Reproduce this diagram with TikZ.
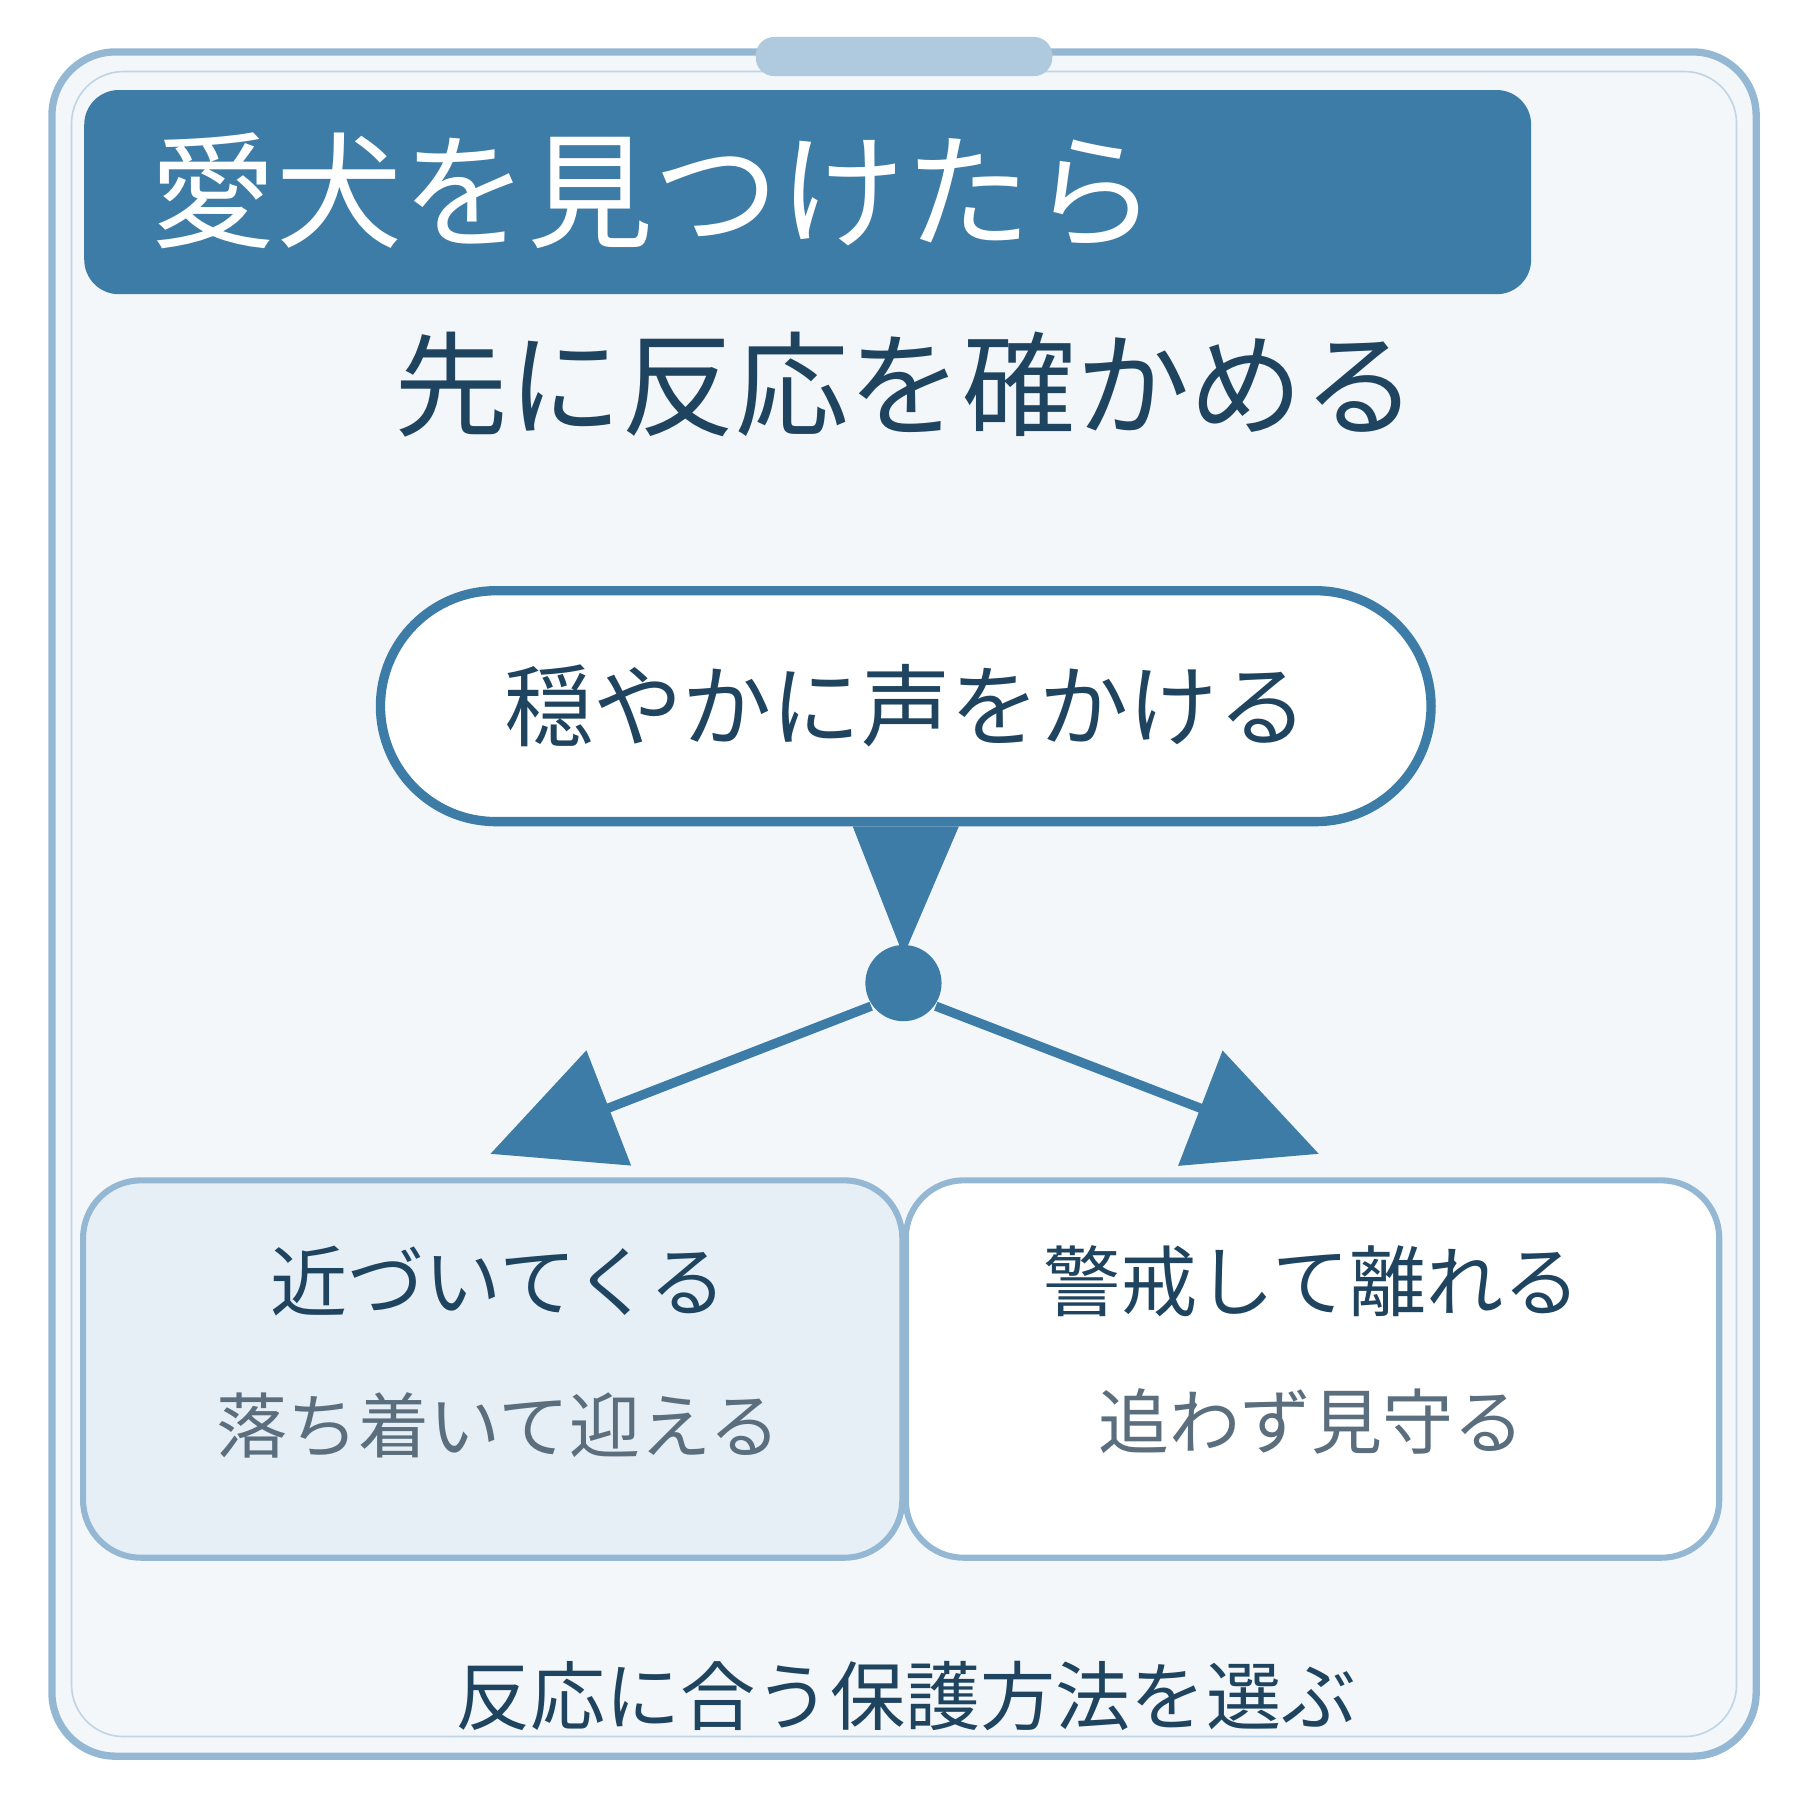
\documentclass[tikz,border=0pt]{standalone}
\usepackage{fontspec}
\setmainfont{Noto Sans CJK JP}
\usetikzlibrary{arrows.meta}
\definecolor{frameblue}{HTML}{94B8D3}
\definecolor{mainblue}{HTML}{3C7CA6}
\definecolor{darktext}{HTML}{1F4460}
\definecolor{greytext}{HTML}{5A6E7E}
\definecolor{bgpale}{HTML}{F3F7F9}
\definecolor{leftfill}{HTML}{E6EFF6}
\begin{document}
\begin{tikzpicture}
    [
    x=0.01cm,y=-0.01cm,
    box/.style={draw=frameblue,line width=1.5pt,rounded corners=0.5cm},
    head/.style={font=\fontsize{19}{22}\selectfont,text=darktext},
    sub/.style={font=\fontsize{17.5}{20}\selectfont,text=greytext},
    flow/.style={mainblue,line width=2.3pt,-{Triangle[length=1.1cm,width=1.05cm]}}
    ]
    \useasboundingbox (0,0) rectangle (1560,1560);
    \draw [frameblue,line width=1.8pt,fill=bgpale,rounded corners=0.55cm] (45,45) rectangle (1522,1522);
    \draw [frameblue!60,line width=0.4pt,rounded corners=0.45cm] (62,62) rectangle (1505,1505);
    \fill [frameblue!75,rounded corners=0.16cm] (655,32) rectangle (912,66);
    \fill [mainblue,rounded corners=0.3cm] (73,78) rectangle (1327,255);
    \node (title) [anchor=west,text=white,font=\fontsize{31}{34}\selectfont] at (118,165) {愛犬を見つけたら};
    \node (check) [text=darktext,font=\fontsize{28}{32}\selectfont] at (785,333) {先に反応を確かめる};
    \node (call) [draw=mainblue,line width=2.3pt,fill=white,rounded corners=1cm,minimum width=9.1cm,minimum height=2cm,text=darktext,font=\fontsize{22}{26}\selectfont] at (785,612) {穏やかに声をかける};
    \node (split) [circle,fill=mainblue,minimum size=0.66cm,inner sep=0pt] at (783,852) {};
    \draw [box,fill=leftfill] (72,1023) rectangle (782,1350);
    \draw [box,fill=white] (785,1023) rectangle (1490,1350);
    \node (near) [head] at (432,1110) {近づいてくる};
    \node (welcome) [sub] at (432,1235) {落ち着いて迎える};
    \node (away) [head] at (1137,1110) {警戒して離れる};
    \node (watch) [sub] at (1137,1232) {追わず見守る};
    \node (choose) [text=darktext,font=\fontsize{18.5}{22}\selectfont] at (785,1470) {反応に合う保護方法を選ぶ};
    \coordinate (lefttip) at (425,1000);
    \coordinate (righttip) at (1143,1000);
    \fill [mainblue] ([xshift=-0.46cm]call.south) -- ([xshift=0.46cm]call.south) -- ([yshift=-0.1cm]split.north) -- cycle;
    \draw [flow] (split) ++(-28,20) -- (lefttip);
    \draw [flow] (split) ++(28,20) -- (righttip);
  \end{tikzpicture}
\end{document}
